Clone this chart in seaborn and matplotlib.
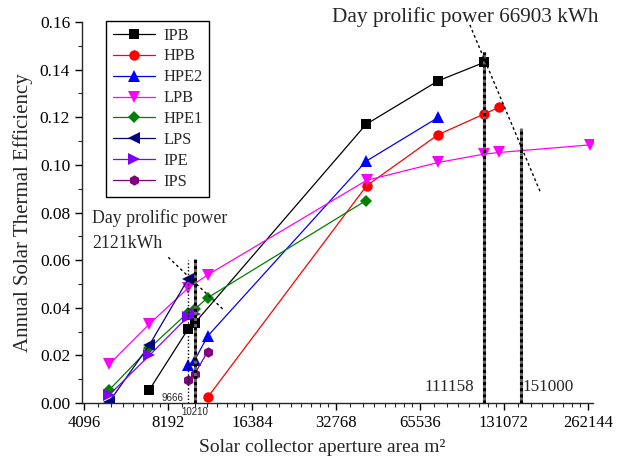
import numpy as np
import pandas as pd
import matplotlib
matplotlib.use("Agg")
import matplotlib.pyplot as plt
import matplotlib.ticker as mticker
import seaborn as sns

# ---- data ----
series_names = ["IPB", "HPB", "HPE2", "LPB", "HPE1", "LPS", "IPE", "IPS"]
IPB_x = [7022, 9666, 10210, 42000, 76200, 111158]
IPB_y = [0.0055, 0.0310, 0.0335, 0.1170, 0.1353, 0.1430]
HPB_x = [11370, 42200, 76200, 111158, 126000]
HPB_y = [0.0024, 0.0912, 0.1127, 0.1213, 0.1242]
HPE2_x = [9666, 10210, 11370, 42000, 76200]
HPE2_y = [0.0158, 0.0180, 0.0281, 0.1015, 0.1199]
LPB_x = [5045, 7030, 9666, 11370, 42200, 76200, 111158, 126000, 266800]
LPB_y = [0.0163, 0.0332, 0.0482, 0.0538, 0.0935, 0.1010, 0.1045, 0.1052, 0.1084]
HPE1_x = [5045, 7030, 9666, 10210, 11370, 42000]
HPE1_y = [0.0055, 0.0230, 0.0380, 0.0394, 0.0442, 0.0850]
LPS_x = [5045, 7030, 9666]
LPS_y = [0.0005, 0.0244, 0.0520]
IPE_x = [5045, 7030, 9666, 10210]
IPE_y = [0.0034, 0.0200, 0.0363, 0.0375]
IPS_x = [9666, 10210, 11370]
IPS_y = [0.0097, 0.0122, 0.0216]

xticks = [4096, 8192, 16384, 32768, 65536, 131072, 262144]
yticks = [0.00, 0.02, 0.04, 0.06, 0.08, 0.10, 0.12, 0.14, 0.16]

series = {
    "IPB": (IPB_x, IPB_y, "#000000", "s", 6.5),
    "HPB": (HPB_x, HPB_y, "#FF0000", "o", 7.5),
    "HPE2": (HPE2_x, HPE2_y, "#0000FF", "^", 8),
    "LPB": (LPB_x, LPB_y, "#FF00FF", "v", 8),
    "HPE1": (HPE1_x, HPE1_y, "#008000", "D", 6.5),
    "LPS": (LPS_x, LPS_y, "#000080", "<", 8),
    "IPE": (IPE_x, IPE_y, "#8000FF", ">", 8),
    "IPS": (IPS_x, IPS_y, "#800080", "h", 7.5),
}

sns.set_style("ticks")
plt.rcParams["font.family"] = ["Liberation Serif", "DejaVu Serif"]
plt.rcParams["mathtext.fontset"] = "stix"

fig = plt.figure(figsize=(6.21, 4.68), dpi=100)
ax = fig.add_axes([82/621, 1-403/468, (593-82)/621, (403-22)/468])

for name in series_names:
    xs, ys, col, mk, ms = series[name]
    df = pd.DataFrame({"x": xs, "y": ys})
    sns.lineplot(data=df, x="x", y="y", ax=ax, color=col, marker=mk,
                 markersize=ms, markeredgewidth=0, linewidth=0.9,
                 estimator=None, sort=False, label=name)

ax.set_xscale("log", base=2)
ax.set_xlim(4029, 273600)
ax.set_ylim(0, 0.16)
ax.xaxis.set_major_locator(mticker.FixedLocator(xticks))
ax.xaxis.set_major_formatter(mticker.FuncFormatter(lambda v, p: f"{int(round(v))}"))
ax.xaxis.set_minor_locator(mticker.LogLocator(base=2, subs=np.arange(1.125, 2.0, 0.125), numticks=50))
ax.xaxis.set_minor_formatter(mticker.NullFormatter())
ax.yaxis.set_major_locator(mticker.FixedLocator(yticks))
ax.yaxis.set_major_formatter(mticker.FormatStrFormatter("%.2f"))
ax.yaxis.set_minor_locator(mticker.MultipleLocator(0.01))

for s in ["top", "right"]:
    ax.spines[s].set_visible(False)
for s in ["left", "bottom"]:
    ax.spines[s].set_linewidth(1.0)
ax.tick_params(axis="both", which="major", direction="out", length=5, width=1,
               colors="black")
ax.tick_params(axis="x", which="major", labelsize=12)
ax.tick_params(axis="y", which="major", labelsize=12.5)
ax.tick_params(axis="both", which="minor", direction="out", length=3, width=0.8)

ax.set_xlabel("Solar collector aperture area m\u00b2", fontsize=14, labelpad=6)
ax.xaxis.label.set_x(0.47)
ax.set_ylabel("Annual Solar Thermal Efficiency", fontsize=15, labelpad=5)

# vertical markers
ax.plot([9666, 9666], [0, 0.060], color="black", lw=1.0, ls=(0, (1, 1.5)))
for xv, ytop in [(10210, 0.0605), (111158, 0.1475), (151000, 0.1155)]:
    ax.plot([xv, xv], [0, ytop], color="#666666", lw=2.2, solid_capstyle="butt")
    ax.plot([xv, xv], [0, ytop], color="black", lw=2.2, ls=(0, (1, 1)))

# dotted diagonal lines
ax.plot([8212, 12920], [0.0612, 0.0393], color="black", lw=1.0, ls=(0, (2, 2)))
ax.plot([98970, 177400], [0.1588, 0.0884], color="black", lw=1.0, ls=(0, (2, 2)))

# annotations
ax.text(9300, 0.0002, "9666", fontsize=7, family=["Liberation Sans", "DejaVu Sans"],
        ha="right", va="bottom")
ax.text(10210, -0.0015, "10210", fontsize=7, family=["Liberation Sans", "DejaVu Sans"],
        ha="center", va="top")
ax.text(102500, 0.0035, "111158", fontsize=12.3, ha="right", va="bottom")
ax.text(153000, 0.0035, "151000", fontsize=12.3, ha="left", va="bottom")
fig.text(332/621, 1-17/468, "Day prolific power 66903 kWh", fontsize=15.3, va="center", ha="left")
fig.text(92/621, 1-218/468, "Day prolific power", fontsize=12.8, va="center", ha="left")
fig.text(92/621, 1-243/468, "2121kWh", fontsize=12.8, va="center", ha="left")

leg = ax.legend(loc="upper left", bbox_to_anchor=(106/621, 1-21/468),
                bbox_transform=fig.transFigure, fontsize=11.8, frameon=True,
                fancybox=False, edgecolor="black", framealpha=1,
                handlelength=2.6, labelspacing=0.3, borderpad=0.4,
                handletextpad=0.5, borderaxespad=0)
leg.get_frame().set_linewidth(1.0)

fig.savefig("out.png", dpi=100)
